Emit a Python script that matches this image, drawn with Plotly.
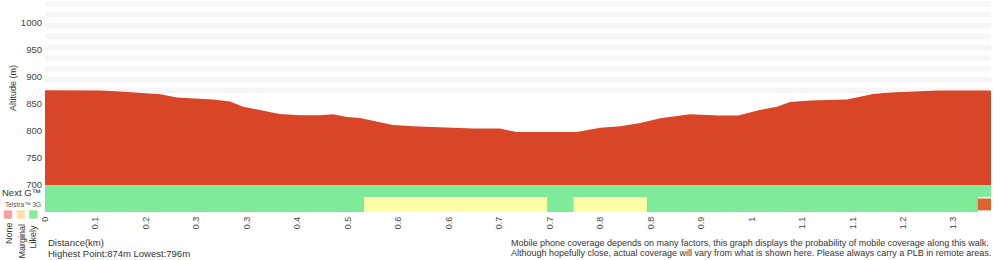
import plotly.graph_objects as go

# ---- data ----
distance_km = [0.000, 0.080, 0.109, 0.138, 0.167, 0.191, 0.224, 0.243, 0.268, 0.287,
               0.311, 0.340, 0.369, 0.398, 0.417, 0.437, 0.456, 0.504, 0.533, 0.572,
               0.620, 0.659, 0.683, 0.770, 0.804, 0.833, 0.862, 0.891, 0.934, 0.977,
               1.004, 1.035, 1.060, 1.079, 1.108, 1.161, 1.170, 1.199, 1.224, 1.267,
               1.296, 1.370]
altitude_m = [875.5, 875.0, 873.0, 871.0, 868.0, 862.0, 859.0, 858.5, 854.5, 845.0,
              839.0, 831.5, 829.0, 829.0, 831.0, 826.0, 824.0, 811.0, 809.0, 806.5,
              804.5, 804.5, 798.0, 798.0, 806.0, 809.0, 815.0, 823.5, 831.0, 828.5,
              828.5, 839.0, 845.0, 853.5, 856.5, 858.5, 860.5, 868.5, 871.5, 873.5,
              875.0, 875.0]

# coverage rows: (start km, end km, level)
nextg_segments = [(0.000, 1.370, "Likely")]
telstra3g_segments = [(0.000, 0.462, "Likely"), (0.462, 0.728, "Marginal"),
                      (0.728, 0.765, "Likely"), (0.765, 0.872, "Marginal"),
                      (0.872, 1.351, "Likely"), (1.351, 1.370, "Unknown")]

tick_positions = [0.0000, 0.0731, 0.1462, 0.2193, 0.2924, 0.3655, 0.4386, 0.5117, 0.5848,
                  0.6579, 0.7310, 0.8041, 0.8772, 0.9503, 1.0234, 1.0965, 1.1696, 1.2427, 1.3158]
tick_labels = ["0", "0.1", "0.2", "0.3", "0.3", "0.4", "0.5", "0.6", "0.6", "0.7", "0.7",
               "0.8", "0.8", "0.9", "1", "1.1", "1.1", "1.2", "1.3"]
alt_ticks = [700, 750, 800, 850, 900, 950, 1000]
stripe_starts = [870, 890, 910, 930, 950, 970, 990, 1010, 1030]

legend_levels = ["None", "Marginal", "Likely"]
legend_colors = ["#ff9e9e", "#ffe0a6", "#86ec98"]
level_colors = {"Likely": "#7eeb9b", "Marginal": "#ffffaa", "None": "#ff9e9e", "Unknown": "#e0632f"}

footer_left = ["Distance(km)", "Highest Point:874m Lowest:796m"]
footer_right = ["Mobile phone coverage depends on many factors, this graph displays the probability of mobile coverage along this walk.",
                "Although hopefully close, actual coverage will vary from what is shown here. Please always carry a PLB in remote areas."]

X_MAX = 1.370
Y_MIN, Y_MAX = 650.0, 1042.6
RED = "#d94627"

fig = go.Figure()

fig.add_trace(go.Scatter(
    x=distance_km, y=altitude_m, mode="lines", line=dict(color=RED, width=0),
    fill="tozeroy", fillcolor=RED, hoverinfo="skip", showlegend=False))

shapes = []
for s in stripe_starts:
    shapes.append(dict(type="rect", xref="x", yref="y", x0=0, x1=X_MAX, y0=s, y1=s + 10,
                       fillcolor="#f6f6f6", line=dict(width=0), layer="below"))
for (a, b, lvl) in nextg_segments:
    shapes.append(dict(type="rect", xref="x", yref="y", x0=a, x1=b, y0=678, y1=700,
                       fillcolor=level_colors[lvl], line=dict(width=0), layer="above"))
for (a, b, lvl) in telstra3g_segments:
    if lvl == "Unknown":
        shapes.append(dict(type="rect", xref="x", yref="y", x0=a, x1=b, y0=650, y1=678,
                           fillcolor="white", line=dict(width=0), layer="above"))
        y0, y1 = 653, 675
    else:
        y0, y1 = 650, 678
    shapes.append(dict(type="rect", xref="x", yref="y", x0=a, x1=b, y0=y0, y1=y1,
                       fillcolor=level_colors[lvl], line=dict(width=0), layer="above"))

W, H = 1000, 260
L, R, T, B = 45, 9, 0, 48
pw, ph = W - L - R, H - T - B

def px(x):
    return (x - L) / pw

def py(y):
    return (H - B - y) / ph

for i, c in enumerate(legend_colors):
    x0 = 3.5 + 12.7 * i
    shapes.append(dict(type="rect", xref="paper", yref="paper", x0=px(x0), x1=px(x0 + 9),
                       y0=py(219), y1=py(210), fillcolor=c,
                       line=dict(width=1, color="rgba(255,255,255,0.7)")))

font_fam = "Liberation Sans, Arial, Helvetica, sans-serif"
ann = []
ann.append(dict(text="Next G™", x=px(0), y=py(192), xref="paper", yref="paper",
                xanchor="left", yanchor="middle", showarrow=False,
                font=dict(size=9.5, color="#333", family=font_fam)))
ann.append(dict(text="Telstra™ 3G", x=px(3), y=py(204.5), xref="paper", yref="paper",
                xanchor="left", yanchor="middle", showarrow=False,
                font=dict(size=6.5, color="#555", family=font_fam)))
legend_label_centers = [233, 241.5, 236.5]
for i, lvl in enumerate(legend_levels):
    ann.append(dict(text=lvl, x=px(9 + 12 * i), y=py(legend_label_centers[i]), xref="paper", yref="paper",
                    xanchor="center", yanchor="middle", textangle=-90, showarrow=False,
                    font=dict(size=9, color="#333", family=font_fam)))
ann.append(dict(text="Altitude (m)", x=px(13), y=py(88), xref="paper", yref="paper",
                xanchor="center", yanchor="middle", textangle=-90, showarrow=False,
                font=dict(size=9, color="#333", family=font_fam)))
for i, t in enumerate(footer_left):
    ann.append(dict(text=t, x=px(46), y=py(243 + 10 * i), xref="paper", yref="paper",
                    xanchor="left", yanchor="middle", showarrow=False,
                    font=dict(size=9.5, color="#333", family=font_fam)))
for i, t in enumerate(footer_right):
    ann.append(dict(text=t, x=px(509), y=py(243 + 10 * i), xref="paper", yref="paper",
                    xanchor="left", yanchor="middle", showarrow=False,
                    font=dict(size=9, color="#333", family=font_fam)))

fig.update_layout(
    width=W, height=H, margin=dict(l=L, r=R, t=T, b=B, pad=0),
    paper_bgcolor="white", plot_bgcolor="white",
    shapes=shapes, annotations=ann, showlegend=False,
    font=dict(family=font_fam, size=9, color="#444"),
    xaxis=dict(range=[0, X_MAX], tickvals=tick_positions, ticktext=tick_labels,
               tickangle=-90, showgrid=False, zeroline=False, showline=False,
               ticks="", ticklabelstandoff=2, tickfont=dict(size=9, color="#444")),
    yaxis=dict(range=[Y_MIN, Y_MAX], tickvals=alt_ticks, showgrid=False, zeroline=False,
               showline=False, ticks="", ticklabelstandoff=2, tickfont=dict(size=9.5, color="#444")),
)

fig.write_html("out.html")
